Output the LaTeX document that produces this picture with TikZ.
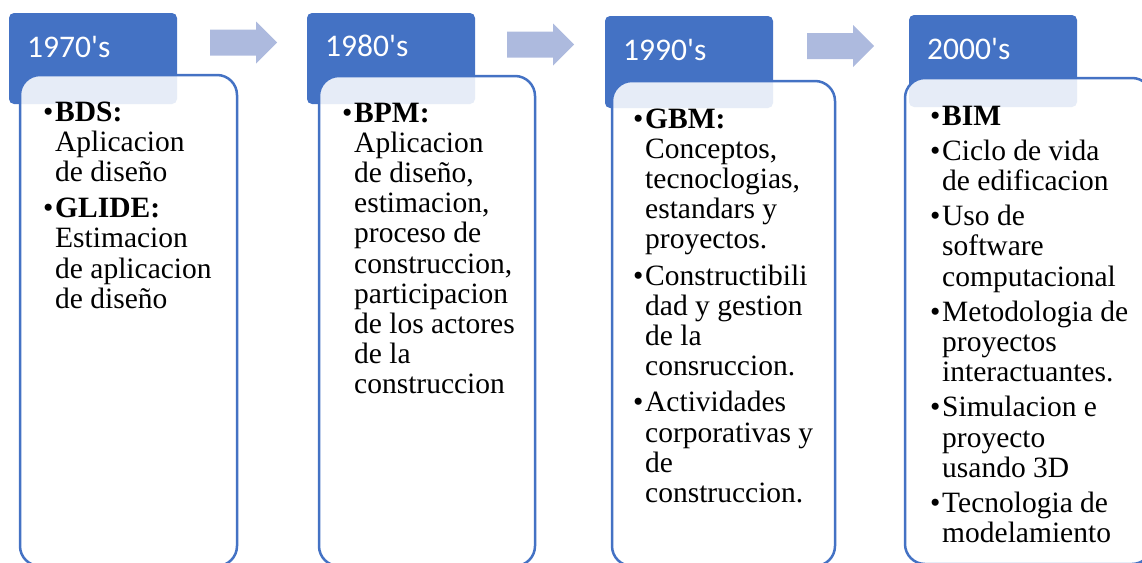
\documentclass[tikz,border=0pt]{standalone}
\usepackage{fontspec}
\setmainfont{Liberation Serif}
\newfontfamily\hdfont{Carlito}
\definecolor{accent}{RGB}{68,114,196}
\definecolor{arrowc}{RGB}{173,186,222}
\newcommand\bul{\makebox[12pt][l]{•}}
\newcommand\ind{\hspace*{12pt}}
\tikzset{
  header/.style={fill=accent, rounded corners=5pt},
  contentbox/.style={draw=accent, line width=2.5pt, fill=white, fill opacity=0.87, rounded corners=20pt},
  blockarrow/.style={fill=arrowc},
  hdtext/.style={anchor=base west, inner sep=0pt, text=white, font=\hdfont\fontsize{31.5}{36}\selectfont},
  bodytext/.style={anchor=base west, inner sep=0pt, font=\fontsize{29.5}{30.2}\selectfont},
}
\newcommand\blockarr[2]{% x0, cy
  \path[blockarrow] (#1,#2-13) -- (#1+46,#2-13) -- (#1+46,#2-21) -- (#1+67,#2) -- (#1+46,#2+21) -- (#1+46,#2+13) -- (#1,#2+13) -- cycle;}
\begin{document}
\begin{tikzpicture}[x=1pt,y=-1pt]
\useasboundingbox (0,0) rectangle (1142,562);
\clip (0,0) rectangle (1142,562);

% arrows
\blockarr{210}{42.5}
\blockarr{507}{44.5}
\blockarr{807}{46}

% headers
\path[header] (9,13) rectangle (177,104);
\path[header] (307,13) rectangle (475,104);
\path[header] (605,16) rectangle (773,108);
\path[header] (909,15) rectangle (1077,107);

% content boxes
\path[contentbox] (20,75) rectangle (237,566);
\path[contentbox] (319,76) rectangle (535,566);
\path[contentbox] (612,81) rectangle (835,566);
\path[contentbox] (905,78) rectangle (1152,564);

% header texts
\node[hdtext] (h1) at (27,57) {1970's};
\node[hdtext] (h2) at (325,56) {1980's};
\node[hdtext] (h3) at (623,60) {1990's};
\node[hdtext] (h4) at (927,59) {2000's};

% body texts
\node[bodytext] (t1) at (43,121) {\begin{tabular}[t]{@{}l@{}}
\bul\textbf{BDS:}\\
\ind Aplicacion\\
\ind de diseño\\[6pt]
\bul\textbf{GLIDE:}\\
\ind Estimacion\\
\ind de aplicacion\\
\ind de diseño
\end{tabular}};

\node[bodytext] (t2) at (342,122) {\begin{tabular}[t]{@{}l@{}}
\bul\textbf{BPM:}\\
\ind Aplicacion\\
\ind de diseño,\\
\ind estimacion,\\
\ind proceso de\\
\ind construccion,\\
\ind participacion\\
\ind de los actores\\
\ind de la\\
\ind construccion
\end{tabular}};

\node[bodytext] (t3) at (633,128) {\begin{tabular}[t]{@{}l@{}}
\bul\textbf{GBM:}\\
\ind Conceptos,\\
\ind tecnoclogias,\\
\ind estandars y\\
\ind proyectos.\\[6pt]
\bul Constructibili\\
\ind dad y gestion\\
\ind de la\\
\ind consruccion.\\[6pt]
\bul Actividades\\
\ind corporativas y\\
\ind de\\
\ind construccion.
\end{tabular}};

\node[bodytext] (t4) at (930,125) {\begin{tabular}[t]{@{}l@{}}
\bul\textbf{BIM}\\[5pt]
\bul Ciclo de vida\\
\ind de edificacion\\[5pt]
\bul Uso de\\
\ind software\\
\ind computacional\\[5pt]
\bul Metodologia de\\
\ind proyectos\\
\ind interactuantes.\\[5pt]
\bul Simulacion e\\
\ind proyecto\\
\ind usando 3D\\[5pt]
\bul Tecnologia de\\
\ind modelamiento
\end{tabular}};
\end{tikzpicture}
\end{document}
